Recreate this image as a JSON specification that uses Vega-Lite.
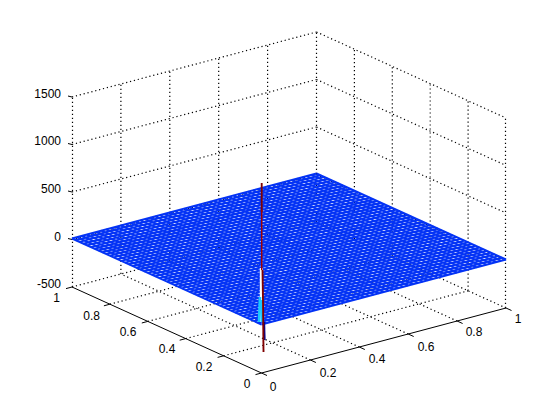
{"$schema":"https://vega.github.io/schema/vega-lite/v6.json","width":560,"height":420,"padding":0,"autosize":{"type":"fit","contains":"padding"},"background":"white","config":{"view":{"stroke":null}},
"datasets":{
"grid":[{"u":310.4,"v":360,"u2":120.9,"v2":274},{"u":359.3,"v":347,"u2":169.8,"v2":261},{"u":408.2,"v":334,"u2":218.7,"v2":248},{"u":457.1,"v":321,"u2":267.6,"v2":235},{"u":506,"v":308,"u2":316.5,"v2":222},{"u":223.6,"v":355.8,"u2":468.1,"v2":290.8},{"u":185.7,"v":338.6,"u2":430.2,"v2":273.6},{"u":147.8,"v":321.4,"u2":392.3,"v2":256.4},{"u":109.9,"v":304.2,"u2":354.4,"v2":239.2},{"u":72,"v":287,"u2":316.5,"v2":222},
{"u":72.5,"v":287,"u2":72.5,"v2":97},{"u":120.9,"v":274,"u2":120.9,"v2":84},{"u":169.8,"v":261,"u2":169.8,"v2":71},{"u":218.7,"v":248,"u2":218.7,"v2":58},{"u":267.6,"v":235,"u2":267.6,"v2":45},{"u":316.5,"v":222,"u2":316.5,"v2":32},{"u":354.4,"v":239.2,"u2":354.4,"v2":49.2},{"u":392.3,"v":256.4,"u2":392.3,"v2":66.4},{"u":430.2,"v":273.6,"u2":430.2,"v2":83.6},{"u":468.1,"v":290.8,"u2":468.1,"v2":100.8},{"u":505.5,"v":308,"u2":505.5,"v2":118},
{"u":72,"v":239.5,"u2":316.5,"v2":174.5},{"u":316.5,"v":174.5,"u2":506,"v2":260.5},{"u":72,"v":192,"u2":316.5,"v2":127},{"u":316.5,"v":127,"u2":506,"v2":213},{"u":72,"v":144.5,"u2":316.5,"v2":79.5},{"u":316.5,"v":79.5,"u2":506,"v2":165.5},{"u":72,"v":97,"u2":316.5,"v2":32},{"u":316.5,"v":32,"u2":506,"v2":118}],
"axes":[{"u":72,"v":287,"u2":261.5,"v2":373},{"u":261.5,"v":373,"u2":506,"v2":308},
{"u":261.5,"v":373,"u2":267,"v2":375.5},{"u":310.4,"v":360,"u2":315.9,"v2":362.5},{"u":359.3,"v":347,"u2":364.8,"v2":349.5},{"u":408.2,"v":334,"u2":413.7,"v2":336.5},{"u":457.1,"v":321,"u2":462.6,"v2":323.5},{"u":506,"v":308,"u2":511.5,"v2":310.5},
{"u":261.5,"v":373,"u2":255.5,"v2":374.6},{"u":223.6,"v":355.8,"u2":217.6,"v2":357.4},{"u":185.7,"v":338.6,"u2":179.7,"v2":340.2},{"u":147.8,"v":321.4,"u2":141.8,"v2":323},{"u":109.9,"v":304.2,"u2":103.9,"v2":305.8},{"u":72,"v":287,"u2":66,"v2":288.6},
{"u":72,"v":97,"u2":68,"v2":96},{"u":72,"v":144.5,"u2":68,"v2":143.5},{"u":72,"v":192,"u2":68,"v2":191},{"u":72,"v":239.5,"u2":68,"v2":238.5}],
"mesh":[{"u":261.5,"v":324.5,"u2":506,"v2":259.5},{"u":257.7,"v":322.8,"u2":502.2,"v2":257.8},{"u":253.9,"v":321.1,"u2":498.4,"v2":256.1},{"u":250.1,"v":319.3,"u2":494.6,"v2":254.3},{"u":246.3,"v":317.6,"u2":490.8,"v2":252.6},{"u":242.6,"v":315.9,"u2":487.1,"v2":250.9},{"u":238.8,"v":314.2,"u2":483.3,"v2":249.2},{"u":235,"v":312.5,"u2":479.5,"v2":247.5},{"u":231.2,"v":310.7,"u2":475.7,"v2":245.7},{"u":227.4,"v":309,"u2":471.9,"v2":244},{"u":223.6,"v":307.3,"u2":468.1,"v2":242.3},{"u":219.8,"v":305.6,"u2":464.3,"v2":240.6},{"u":216,"v":303.9,"u2":460.5,"v2":238.9},{"u":212.2,"v":302.1,"u2":456.7,"v2":237.1},{"u":208.4,"v":300.4,"u2":452.9,"v2":235.4},{"u":204.7,"v":298.7,"u2":449.2,"v2":233.7},{"u":200.9,"v":297,"u2":445.4,"v2":232},{"u":197.1,"v":295.3,"u2":441.6,"v2":230.3},{"u":193.3,"v":293.5,"u2":437.8,"v2":228.5},{"u":189.5,"v":291.8,"u2":434,"v2":226.8},{"u":185.7,"v":290.1,"u2":430.2,"v2":225.1},{"u":181.9,"v":288.4,"u2":426.4,"v2":223.4},{"u":178.1,"v":286.7,"u2":422.6,"v2":221.7},{"u":174.3,"v":284.9,"u2":418.8,"v2":219.9},{"u":170.5,"v":283.2,"u2":415,"v2":218.2},{"u":166.8,"v":281.5,"u2":411.3,"v2":216.5},{"u":163,"v":279.8,"u2":407.5,"v2":214.8},{"u":159.2,"v":278.1,"u2":403.7,"v2":213.1},{"u":155.4,"v":276.3,"u2":399.9,"v2":211.3},{"u":151.6,"v":274.6,"u2":396.1,"v2":209.6},{"u":147.8,"v":272.9,"u2":392.3,"v2":207.9},{"u":144,"v":271.2,"u2":388.5,"v2":206.2},{"u":140.2,"v":269.5,"u2":384.7,"v2":204.5},{"u":136.4,"v":267.7,"u2":380.9,"v2":202.7},{"u":132.6,"v":266,"u2":377.1,"v2":201},{"u":128.9,"v":264.3,"u2":373.4,"v2":199.3},{"u":125.1,"v":262.6,"u2":369.6,"v2":197.6},{"u":121.3,"v":260.9,"u2":365.8,"v2":195.9},{"u":117.5,"v":259.1,"u2":362,"v2":194.1},{"u":113.7,"v":257.4,"u2":358.2,"v2":192.4},{"u":109.9,"v":255.7,"u2":354.4,"v2":190.7},{"u":106.1,"v":254,"u2":350.6,"v2":189},{"u":102.3,"v":252.3,"u2":346.8,"v2":187.3},{"u":98.5,"v":250.5,"u2":343,"v2":185.5},{"u":94.7,"v":248.8,"u2":339.2,"v2":183.8},{"u":91,"v":247.1,"u2":335.5,"v2":182.1},{"u":87.2,"v":245.4,"u2":331.7,"v2":180.4},{"u":83.4,"v":243.7,"u2":327.9,"v2":178.7},{"u":79.6,"v":241.9,"u2":324.1,"v2":176.9},{"u":75.8,"v":240.2,"u2":320.3,"v2":175.2},{"u":72,"v":238.5,"u2":316.5,"v2":173.5},
{"u":261.5,"v":324.5,"u2":72,"v2":238.5},{"u":266.4,"v":323.2,"u2":76.9,"v2":237.2},{"u":271.3,"v":321.9,"u2":81.8,"v2":235.9},{"u":276.2,"v":320.6,"u2":86.7,"v2":234.6},{"u":281.1,"v":319.3,"u2":91.6,"v2":233.3},{"u":286,"v":318,"u2":96.5,"v2":232},{"u":290.8,"v":316.7,"u2":101.3,"v2":230.7},{"u":295.7,"v":315.4,"u2":106.2,"v2":229.4},{"u":300.6,"v":314.1,"u2":111.1,"v2":228.1},{"u":305.5,"v":312.8,"u2":116,"v2":226.8},{"u":310.4,"v":311.5,"u2":120.9,"v2":225.5},{"u":315.3,"v":310.2,"u2":125.8,"v2":224.2},{"u":320.2,"v":308.9,"u2":130.7,"v2":222.9},{"u":325.1,"v":307.6,"u2":135.6,"v2":221.6},{"u":330,"v":306.3,"u2":140.5,"v2":220.3},{"u":334.9,"v":305,"u2":145.4,"v2":219},{"u":339.7,"v":303.7,"u2":150.2,"v2":217.7},{"u":344.6,"v":302.4,"u2":155.1,"v2":216.4},{"u":349.5,"v":301.1,"u2":160,"v2":215.1},{"u":354.4,"v":299.8,"u2":164.9,"v2":213.8},{"u":359.3,"v":298.5,"u2":169.8,"v2":212.5},{"u":364.2,"v":297.2,"u2":174.7,"v2":211.2},{"u":369.1,"v":295.9,"u2":179.6,"v2":209.9},{"u":374,"v":294.6,"u2":184.5,"v2":208.6},{"u":378.9,"v":293.3,"u2":189.4,"v2":207.3},{"u":383.8,"v":292,"u2":194.3,"v2":206},{"u":388.6,"v":290.7,"u2":199.1,"v2":204.7},{"u":393.5,"v":289.4,"u2":204,"v2":203.4},{"u":398.4,"v":288.1,"u2":208.9,"v2":202.1},{"u":403.3,"v":286.8,"u2":213.8,"v2":200.8},{"u":408.2,"v":285.5,"u2":218.7,"v2":199.5},{"u":413.1,"v":284.2,"u2":223.6,"v2":198.2},{"u":418,"v":282.9,"u2":228.5,"v2":196.9},{"u":422.9,"v":281.6,"u2":233.4,"v2":195.6},{"u":427.8,"v":280.3,"u2":238.3,"v2":194.3},{"u":432.7,"v":279,"u2":243.2,"v2":193},{"u":437.5,"v":277.7,"u2":248,"v2":191.7},{"u":442.4,"v":276.4,"u2":252.9,"v2":190.4},{"u":447.3,"v":275.1,"u2":257.8,"v2":189.1},{"u":452.2,"v":273.8,"u2":262.7,"v2":187.8},{"u":457.1,"v":272.5,"u2":267.6,"v2":186.5},{"u":462,"v":271.2,"u2":272.5,"v2":185.2},{"u":466.9,"v":269.9,"u2":277.4,"v2":183.9},{"u":471.8,"v":268.6,"u2":282.3,"v2":182.6},{"u":476.7,"v":267.3,"u2":287.2,"v2":181.3},{"u":481.6,"v":266,"u2":292.1,"v2":180},{"u":486.4,"v":264.7,"u2":296.9,"v2":178.7},{"u":491.3,"v":263.4,"u2":301.8,"v2":177.4},{"u":496.2,"v":262.1,"u2":306.7,"v2":176.1},{"u":501.1,"v":260.8,"u2":311.6,"v2":174.8},{"u":506,"v":259.5,"u2":316.5,"v2":173.5}],
"spike":[{"band":"gap","u":261.3,"v":268,"u2":261.3,"v2":322},{"band":"shoulder","u":260,"v":297,"u2":259,"v2":322},{"band":"shoulder","u":261,"v":300,"u2":262,"v2":322},{"band":"trough","u":264,"v":322,"u2":264.5,"v2":340},{"band":"peak","u":261.7,"v":183,"u2":261.7,"v2":212},{"band":"ridge","u":261.7,"v":210,"u2":261.7,"v2":270},{"band":"peak","u":262.5,"v":270,"u2":263,"v2":300},{"band":"peak","u":263,"v":300,"u2":263.5,"v2":352}],
"zlabels":[{"u":61,"v":94,"t":"1500"},{"u":61,"v":141,"t":"1000"},{"u":61,"v":189,"t":"500"},{"u":61,"v":237,"t":"0"},{"u":61,"v":284,"t":"-500"}],
"labels":[{"u":56.7,"v":298,"t":"1"},{"u":91.7,"v":316,"t":"0.8"},{"u":128,"v":331.5,"t":"0.6"},{"u":167,"v":349,"t":"0.4"},{"u":204,"v":367,"t":"0.2"},{"u":247,"v":384,"t":"0"},
{"u":273,"v":386.5,"t":"0"},{"u":328,"v":372.5,"t":"0.2"},{"u":377,"v":359,"t":"0.4"},{"u":426,"v":346.5,"t":"0.6"},{"u":474,"v":332,"t":"0.8"},{"u":518,"v":319,"t":"1"}]},
"layer":[
{"data":{"name":"grid"},"mark":{"type":"rule","color":"black","strokeWidth":1.2,"strokeDash":[1.2,2.8]},"encoding":{"x":{"field":"u","type":"quantitative","scale":{"domain":[0,560],"nice":false},"axis":null},"y":{"field":"v","type":"quantitative","scale":{"domain":[420,0],"nice":false},"axis":null},"x2":{"field":"u2"},"y2":{"field":"v2"}}},
{"data":{"name":"axes"},"mark":{"type":"rule","color":"black","strokeWidth":1},"encoding":{"x":{"field":"u","type":"quantitative","axis":null},"y":{"field":"v","type":"quantitative","axis":null},"x2":{"field":"u2"},"y2":{"field":"v2"}}},
{"data":{"name":"mesh"},"mark":{"type":"rule","color":"#0433f5","strokeWidth":1.95},"encoding":{"x":{"field":"u","type":"quantitative","axis":null},"y":{"field":"v","type":"quantitative","axis":null},"x2":{"field":"u2"},"y2":{"field":"v2"}}},
{"data":{"name":"spike"},"mark":{"type":"rule"},"encoding":{"x":{"field":"u","type":"quantitative","axis":null},"y":{"field":"v","type":"quantitative","axis":null},"x2":{"field":"u2"},"y2":{"field":"v2"},"color":{"field":"band","type":"nominal","legend":null,"scale":{"domain":["gap","shoulder","trough","peak","ridge"],"range":["#ffffff","#19c8ff","#00008f","#800000","#a00000"]}},"size":{"field":"band","type":"ordinal","legend":null,"scale":{"domain":["gap","shoulder","trough","peak","ridge"],"range":[3,1.5,3,1.2,2]}}}},
{"data":{"name":"zlabels"},"mark":{"type":"text","font":"Liberation Sans","fontSize":12,"color":"black","baseline":"middle","align":"right"},"encoding":{"x":{"field":"u","type":"quantitative","axis":null},"y":{"field":"v","type":"quantitative","axis":null},"text":{"field":"t"}}},
{"data":{"name":"labels"},"mark":{"type":"text","font":"Liberation Sans","fontSize":12,"color":"black","baseline":"middle","align":"center"},"encoding":{"x":{"field":"u","type":"quantitative","axis":null},"y":{"field":"v","type":"quantitative","axis":null},"text":{"field":"t"}}}
]}
